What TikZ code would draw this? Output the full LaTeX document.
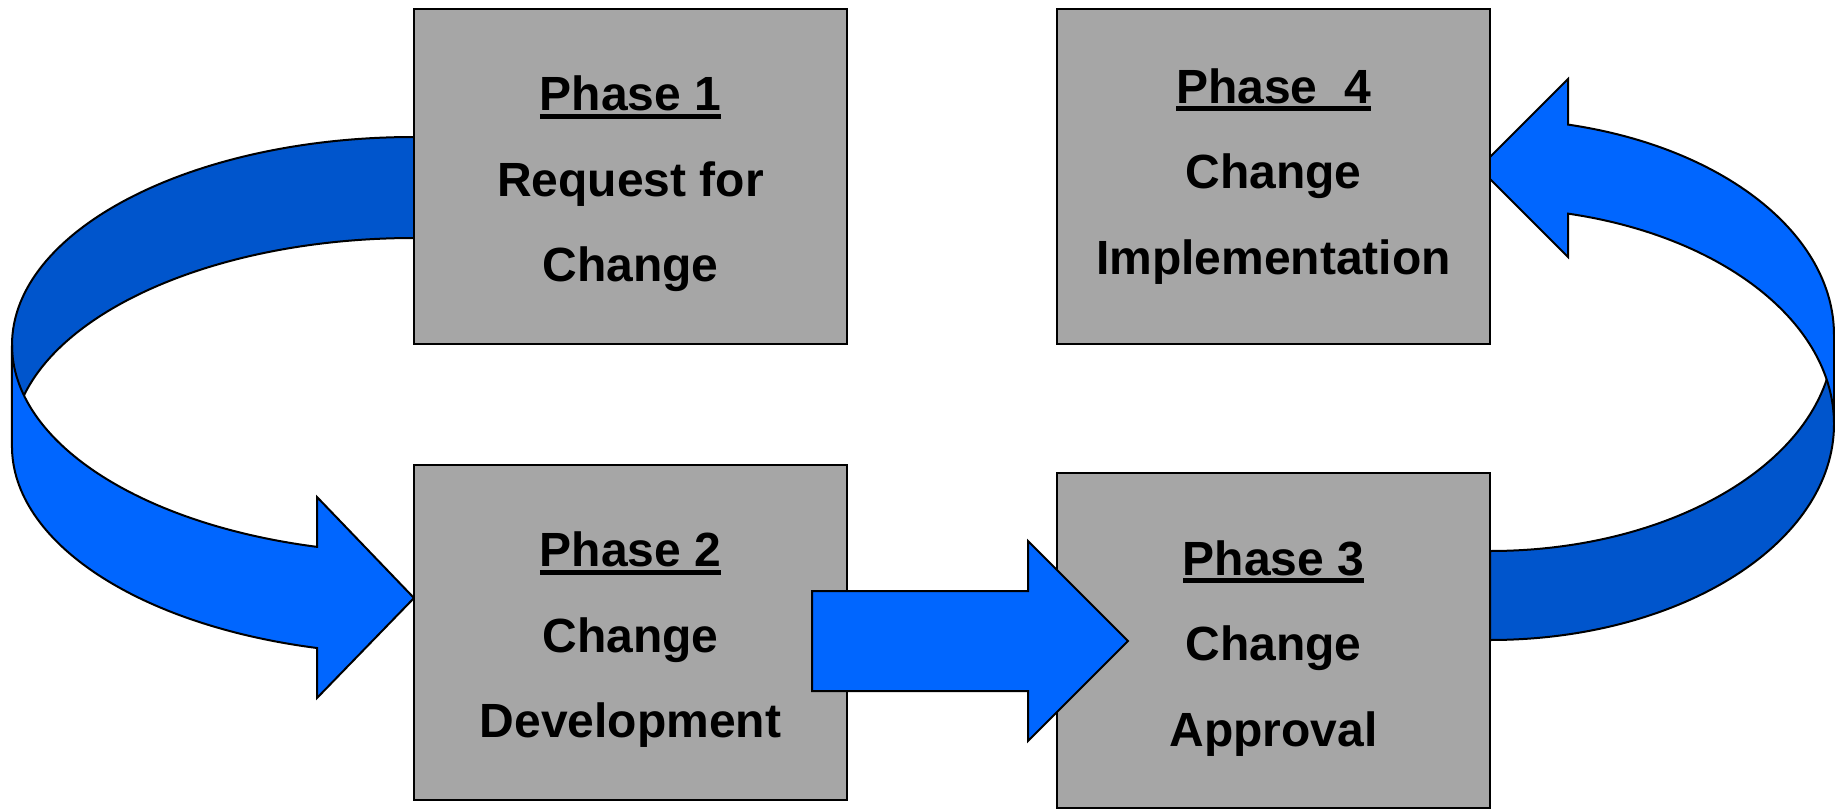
\documentclass[tikz,border=0pt]{standalone}
\usepackage{fontspec}
\setmainfont{Liberation Sans}
\usepackage{tikz}
\usetikzlibrary{backgrounds}
\definecolor{boxgray}{RGB}{166,166,166}
\definecolor{frontblue}{RGB}{0,102,255}
\definecolor{backblue}{RGB}{0,85,204}
\newcommand{\phaseline}[1]{\setbox0\hbox{\rule{0pt}{25pt}#1}\rlap{\rule[-4pt]{\wd0}{2.5pt}}\box0}

\begin{document}
\begin{tikzpicture}[x=0.5pt,y=0.5pt]
	%defines
	\tikzstyle{phasebox} = [rectangle, minimum width=216.5pt, minimum height=167.5pt, inner sep=0pt, align=center, fill=boxgray, draw=black, line width=1pt, font=\fontsize{24pt}{42.75pt}\selectfont\bfseries]
	\tikzstyle{ribbonback} = [fill=backblue, draw=black, line width=1pt]
	\tikzstyle{ribbonfront} = [fill=frontblue, draw=black, line width=1pt]
	\useasboundingbox (0,0) rectangle (1835,-808);
	%chart
	\node (request) [phasebox] at (630.5,-176.5) {\phaseline{Phase 1}\\Request for\\Change};
	\node (development) [phasebox, below of=request, node distance=227.75pt] {\phaseline{Phase 2}\\Change\\Development};
	\node (implementation) [phasebox, right of=request, node distance=321.5pt] {\phaseline{Phase~~4}\\Change\\Implementation\rule[-13pt]{0pt}{0pt}};
	\node (approval) [phasebox, below of=implementation, node distance=232pt] {\phaseline{Phase 3}\\Change\\Approval};
	%ribbons
	\begin{scope}[on background layer]
	\draw [ribbonback] (414,-137) arc[start angle=90, end angle=180, x radius=402, y radius=208] -- (12,-446) arc[start angle=180, end angle=90, x radius=402, y radius=208] -- cycle;
	\draw [ribbonfront] (12,-345) arc[start angle=180, end angle=256.04, x radius=402, y radius=208] -- (317,-497) -- (414,-598) -- (317,-698) -- (317,-648) arc[start angle=256.04, end angle=180, x radius=402, y radius=208] -- cycle;
	\draw [ribbonback] (1490,-551) arc[start angle=270, end angle=360, x radius=344, y radius=216] -- (1834,-424) arc[start angle=0, end angle=-90, x radius=344, y radius=216] -- cycle;
	\draw [ribbonfront] (1568,-124.6) arc[start angle=76.89, end angle=0, x radius=344, y radius=216] -- (1834,-424) arc[start angle=0, end angle=76.89, x radius=344, y radius=216] -- (1568,-257) -- (1479,-168) -- (1568,-79) -- cycle;
	\end{scope}
	\draw [ribbonfront] (812,-591) -- (1028,-591) -- (1028,-541) -- (1128,-641) -- (1028,-741) -- (1028,-691) -- (812,-691) -- cycle;
\end{tikzpicture}
\end{document}
